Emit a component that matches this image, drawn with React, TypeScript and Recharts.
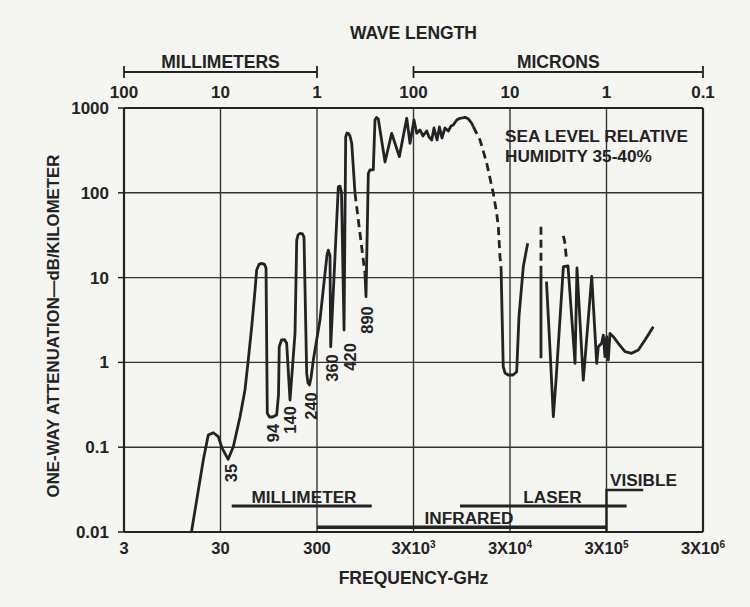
import React from "react";
import {
  ComposedChart,
  Line,
  Scatter,
  XAxis,
  YAxis,
  CartesianGrid,
  ReferenceLine,
} from "recharts";

// axes
const freqTicks = [3, 30, 300, 3000, 30000, 300000, 3000000];
const waveTickLabels = ["100", "10", "1", "100", "10", "1", "0.1"];
const attTicks = [0.01, 0.1, 1, 10, 100, 1000];

// attenuation curve, [GHz, dB/km]
// split where the original switches between solid and dashed
const curveMm: [number, number][] = [
  [15, 0.01], [19.9, 0.0706], [22.4, 0.139], [25.3, 0.148], [28.5, 0.133],
  [31.1, 0.098], [36, 0.072], [40.7, 0.101], [47.8, 0.229], [53.8, 0.473],
  [58.2, 1.07], [63.2, 2.64], [68.4, 7.14], [71.1, 12.3], [75.2, 14.3],
  [80.2, 14.7], [85.7, 14.3], [88.9, 13.0], [91.6, 0.251], [96.6, 0.227],
  [103.8, 0.227], [114.6, 0.24], [119.7, 0.413], [121.9, 1.53], [128.6, 1.84],
  [138, 1.86], [145.5, 1.68], [157.5, 0.36], [177.6, 2.22], [184.9, 27.7],
  [190.8, 31.8], [200, 33.3], [212, 32.7], [220, 30.1], [234.6, 0.743],
  [242, 0.571], [250.7, 0.541], [260, 0.655], [274.8, 1.07], [322, 3.16],
  [363, 11.2], [381, 18.5], [392.7, 21.1], [409, 18.0], [416, 1.53],
  [499, 118], [519, 120], [538, 102], [572, 2.41], [595, 459],
  [614, 507], [633, 503], [659, 468], [687, 384], [743, 98.6],
];
const curveGap1: [number, number][] = [[743, 98.6], [942, 11.2]];
const curveSubmm: [number, number][] = [
  [942, 11.2], [966, 5.96], [1021, 170], [1062, 186], [1149, 186],
  [1197, 722], [1242, 773], [1295, 741], [1521, 231], [1783, 503],
  [2139, 267], [2553, 757], [2760, 384], [3036, 722], [3237, 503],
  [3501, 551], [3760, 468], [4112, 536], [4346, 455], [4636, 420],
  [4893, 581], [5262, 420], [5574, 597], [5917, 443], [6354, 581],
  [6883, 536], [7342, 614], [7750, 631], [8414, 722], [9101, 757],
  [10260, 776], [11145, 741], [12030, 661], [12507, 601],
];
const curveGap2: [number, number][] = [
  [12507, 601], [14660, 420], [17220, 223], [20140, 98.6],
  [21830, 57.3], [22700, 39.8], [23620, 17.6], [24220, 13.5],
];
const curveFarIr: [number, number][] = [
  [24220, 13.5], [25530, 0.889], [26620, 0.75], [28780, 0.71], [32210, 0.71],
  [35190, 0.776], [37170, 3.46], [41220, 13.5], [45740, 25.4],
];
const curveGap3: [number, number][] = [[62820, 39.8], [62820, 11.2]];
const curveSpike: [number, number][] = [[62820, 11.2], [62820, 1.12]];
const curveNearIr: [number, number][] = [
  [71640, 8.96], [78000, 1.4], [84360, 0.229], [89970, 0.619], [107200, 13.5],
  [119700, 13.7], [141600, 0.975], [148300, 13.0], [172500, 0.619], [210900, 10.3],
  [237400, 0.975], [246600, 1.53], [267400, 1.68], [278000, 2.1], [289200, 1.17],
  [301400, 2.01], [313300, 1.07], [326000, 2.2], [352500, 2.01], [397300, 1.68],
  [466400, 1.34], [547200, 1.28], [641300, 1.4], [751800, 1.84], [916500, 2.64],
];
const curveGap4: [number, number][] = [[107000, 31], [110500, 27], [116200, 15.4]];

const solidSegments = [curveMm, curveSubmm, curveFarIr, curveSpike, curveNearIr];
const dashedSegments = [curveGap1, curveGap2, curveGap3, curveGap4];

// window frequencies written along the dips
const dipLabels = ["35", "94", "140", "240", "360", "420", "890"];
const dipLabelFreq = [38.2, 103.8, 157.5, 258, 426, 659, 982];
const dipLabelAtt = [0.0497, 0.147, 0.21, 0.306, 0.859, 1.16, 3.16];

// spectrum bands along the bottom
const bandNames = ["MILLIMETER", "INFRARED", "LASER", "VISIBLE"];
const bandLines: [number, number][][] = [
  [[39.2, 0.0203], [1107, 0.0203]],
  [[300, 0.01135], [300000, 0.01135]],
  [[9100, 0.0203], [485000, 0.0203]],
  [[300000, 0.01], [300000, 0.0313], [720000, 0.0313]],
];
const bandWidths = [3, 3.5, 3, 2.4];
const bandLabelFreq = [220, 11270, 82650, 725000];
const bandLabelAtt = [0.026, 0.01452, 0.026, 0.041];

const noteLines = ["SEA LEVEL RELATIVE", "HUMIDITY 35-40%"];
const noteFreq = [26620, 26620];
const noteAtt = [468, 273];

// wavelength brackets above the plot
const waveBands = [
  { name: "MILLIMETERS", from: 3, to: 300 },
  { name: "MICRONS", from: 3000, to: 3000000 },
];
const bracketLevel = 2657;
const capLow = 2259;
const capHigh = 3126;

const INK = "#232323";

const toPts = (pairs: [number, number][]) => pairs.map(([f, a]) => ({ f, a }));

const dipPts = dipLabels.map((label, i) => ({ f: dipLabelFreq[i], a: dipLabelAtt[i], label }));
const bandPts = bandNames.map((label, i) => ({ f: bandLabelFreq[i], a: bandLabelAtt[i], label }));
const notePts = noteLines.map((label, i) => ({ f: noteFreq[i], a: noteAtt[i], label }));

function FreqTick({ x, y, payload }: any) {
  const v = payload.value as number;
  const exp = Math.round(Math.log10(v / 3));
  return (
    <text x={x} y={y} dy={12} textAnchor="middle" fill={INK} fontSize={16.5}>
      {exp < 3 ? String(v) : (
        <>
          3X10
          <tspan fontSize={10} dy={-6}>{exp}</tspan>
        </>
      )}
    </text>
  );
}

function YTitle({ viewBox }: any) {
  const cx = viewBox.x + 33;
  const cy = viewBox.y + viewBox.height / 2 + 6;
  return (
    <text
      x={cx}
      y={cy}
      transform={`rotate(-90 ${cx} ${cy})`}
      textAnchor="middle"
      dominantBaseline="central"
      fontSize={16.8}
      fill={INK}
    >
      ONE-WAY ATTENUATION—dB/KILOMETER
    </text>
  );
}

function DipLabel({ cx, cy, payload }: any) {
  return (
    <text
      x={cx}
      y={cy}
      transform={`rotate(-90 ${cx} ${cy})`}
      textAnchor="middle"
      dominantBaseline="central"
      fontSize={16.5}
      fill={INK}
    >
      {payload.label}
    </text>
  );
}

function PlainLabel({ cx, cy, payload, anchor }: any) {
  return (
    <text x={cx} y={cy} textAnchor={anchor} dominantBaseline="central" fontSize={17.2} fill={INK}>
      {payload.label}
    </text>
  );
}

export default function App() {
  return (
    <div
      style={{
        position: "absolute",
        left: 0,
        top: 0,
        width: 750,
        height: 607,
        background: "#f5f5f2",
        fontFamily: "'Liberation Sans', Arial, sans-serif",
        fontWeight: 700,
      }}
    >
      <ComposedChart width={750} height={607} margin={{ top: 20, right: 47, bottom: 15, left: 20 }}>
        <CartesianGrid stroke="#333" strokeWidth={1.4} />
        <XAxis
          dataKey="f"
          type="number"
          scale="log"
          domain={[3, 3000000]}
          allowDataOverflow
          ticks={freqTicks}
          interval={0}
          tick={<FreqTick />}
          tickLine={false}
          tickSize={0}
          tickMargin={10}
          height={60}
          axisLine={{ stroke: INK, strokeWidth: 2.2 }}
          label={{ value: "FREQUENCY-GHz", position: "insideBottom", offset: 8, fill: INK, fontSize: 17.5 }}
        />
        <XAxis
          xAxisId="top"
          orientation="top"
          dataKey="f"
          type="number"
          scale="log"
          domain={[3, 3000000]}
          allowDataOverflow
          ticks={freqTicks}
          interval={0}
          tickFormatter={(_v: number, i: number) => waveTickLabels[i]}
          tick={{ fill: INK, fontSize: 17 }}
          tickLine={false}
          tickSize={0}
          tickMargin={10}
          height={88}
          axisLine={{ stroke: INK, strokeWidth: 2.2 }}
          label={{ value: "WAVE LENGTH", position: "insideTop", offset: 7, fill: INK, fontSize: 17.5 }}
        />
        <YAxis
          dataKey="a"
          type="number"
          scale="log"
          domain={[0.01, 1000]}
          allowDataOverflow
          ticks={attTicks}
          interval={0}
          width={104}
          tickFormatter={(v: number) => String(v)}
          tick={{ fill: INK, fontSize: 17 }}
          tickLine={{ stroke: INK, strokeWidth: 1.5 }}
          tickSize={6}
          tickMargin={9}
          axisLine={{ stroke: INK, strokeWidth: 2.2 }}
          label={<YTitle />}
        />
        <ReferenceLine x={3000000} stroke={INK} strokeWidth={2.2} ifOverflow="visible" />

        {waveBands.map((b) => (
          <React.Fragment key={b.name}>
            <ReferenceLine
              segment={[{ x: b.from, y: bracketLevel }, { x: b.to, y: bracketLevel }]}
              ifOverflow="visible"
              stroke={INK}
              strokeWidth={1.8}
              label={{ value: b.name, position: "top", offset: 4, fill: INK, fontSize: 17.5 }}
            />
            <ReferenceLine
              segment={[{ x: b.from, y: capLow }, { x: b.from, y: capHigh }]}
              ifOverflow="visible"
              stroke={INK}
              strokeWidth={1.8}
            />
            <ReferenceLine
              segment={[{ x: b.to, y: capLow }, { x: b.to, y: capHigh }]}
              ifOverflow="visible"
              stroke={INK}
              strokeWidth={1.8}
            />
          </React.Fragment>
        ))}

        {bandLines.map((seg, i) => (
          <Line
            key={"band" + i}
            data={toPts(seg)}
            dataKey="a"
            type="linear"
            stroke={INK}
            strokeWidth={bandWidths[i]}
            dot={false}
            activeDot={false}
            isAnimationActive={false}
          />
        ))}

        {solidSegments.map((seg, i) => (
          <Line
            key={"solid" + i}
            data={toPts(seg)}
            dataKey="a"
            type="linear"
            stroke={INK}
            strokeWidth={2.8}
            strokeLinejoin="round"
            dot={false}
            activeDot={false}
            isAnimationActive={false}
          />
        ))}
        {dashedSegments.map((seg, i) => (
          <Line
            key={"dash" + i}
            data={toPts(seg)}
            dataKey="a"
            type="linear"
            stroke={INK}
            strokeWidth={2.8}
            strokeDasharray="8 5"
            dot={false}
            activeDot={false}
            isAnimationActive={false}
          />
        ))}

        <Scatter data={dipPts} dataKey="a" isAnimationActive={false} shape={(p: any) => <DipLabel {...p} />} />
        <Scatter
          data={bandPts}
          dataKey="a"
          isAnimationActive={false}
          shape={(p: any) => <PlainLabel {...p} anchor="middle" />}
        />
        <Scatter
          data={notePts}
          dataKey="a"
          isAnimationActive={false}
          shape={(p: any) => <PlainLabel {...p} anchor="start" />}
        />
      </ComposedChart>
    </div>
  );
}
